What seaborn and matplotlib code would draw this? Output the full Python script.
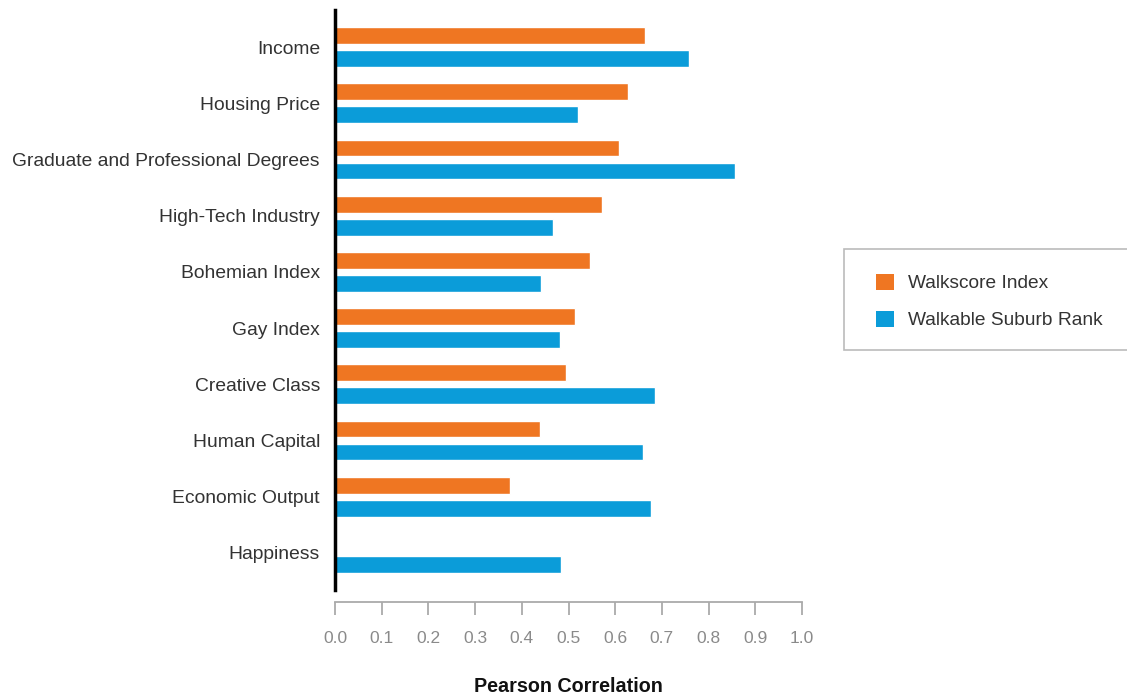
import matplotlib
matplotlib.use("Agg")
import matplotlib.pyplot as plt
import seaborn as sns
import pandas as pd
import numpy as np
from matplotlib.patches import Rectangle

categories = ["Income", "Housing Price", "Graduate and Professional Degrees",
              "High-Tech Industry", "Bohemian Index", "Gay Index", "Creative Class",
              "Human Capital", "Economic Output", "Happiness"]
walkscore_index = [0.664, 0.627, 0.608, 0.572, 0.546, 0.514, 0.495, 0.439, 0.375, np.nan]
walkable_suburb_rank = [0.758, 0.520, 0.857, 0.467, 0.441, 0.482, 0.685, 0.660, 0.677, 0.484]
series_names = ["Walkscore Index", "Walkable Suburb Rank"]
colors = ["#EF7622", "#0B9CD9"]
xticks = [0.0, 0.1, 0.2, 0.3, 0.4, 0.5, 0.6, 0.7, 0.8, 0.9, 1.0]

df = pd.DataFrame({
    "Category": categories * 2,
    "Series": [series_names[0]] * len(categories) + [series_names[1]] * len(categories),
    "Value": walkscore_index + walkable_suburb_rank,
})

sns.set_style("white")
plt.rcParams["font.family"] = ["Liberation Sans", "DejaVu Sans"]

fig = plt.figure(figsize=(11.27, 6.98), dpi=100)
ax = fig.add_axes([335 / 1127, 1 - 590 / 698, 467 / 1127, 580 / 698])

sns.barplot(data=df, y="Category", x="Value", hue="Series", order=categories,
            hue_order=series_names, palette=colors, orient="h", width=0.82, gap=0.27,
            saturation=1, ax=ax, legend=False, errorbar=None)

ax.set_xlim(0, 1.0)
ax.set_ylim(len(categories) - 1 + 0.66, -0.66)
ax.set_xticks(xticks)
ax.set_xticklabels([f"{t:.1f}" for t in xticks])
ax.set_ylabel("")
ax.set_xlabel("Pearson Correlation", fontsize=14.2, fontweight="bold", color="#111111",
              labelpad=23)

for s in ["top", "right"]:
    ax.spines[s].set_visible(False)
ax.spines["left"].set_color("black")
ax.spines["left"].set_linewidth(2.5)
ax.spines["bottom"].set_position(("outward", 8.6))
ax.spines["bottom"].set_color("#aaaaaa")
ax.spines["bottom"].set_linewidth(1.3)
ax.spines["bottom"].set_bounds(0, 1.0)

ax.tick_params(axis="x", direction="out", length=9.4, width=1.3, color="#aaaaaa",
               labelcolor="#8a8a8a", labelsize=12.5, pad=11.2, bottom=True, top=False)
ax.tick_params(axis="y", length=0, labelsize=13.9, labelcolor="#333333", pad=10.8)

# legend
fig.patches.append(Rectangle((844 / 1127, 1 - 350 / 698), 300 / 1127, 101 / 698,
                             transform=fig.transFigure, facecolor="white",
                             edgecolor="#bbbbbb", linewidth=1.2))
handles = [Rectangle((0, 0), 1, 1, facecolor=c, edgecolor="none") for c in colors]
fig.legend(handles, series_names, loc="center left",
           bbox_to_anchor=(859 / 1127, 1 - 301.5 / 698), frameon=False, fontsize=13.8,
           handlelength=0.95, handleheight=0.95, handletextpad=0.7, labelspacing=0.95,
           labelcolor="#333333")

fig.savefig("out.png", dpi=100)
